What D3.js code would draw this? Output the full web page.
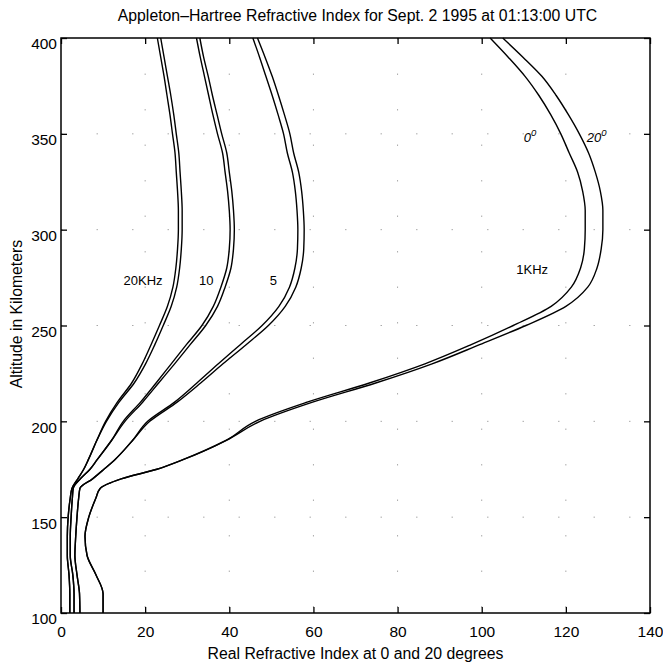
<!DOCTYPE html>
<html><head><meta charset="utf-8">
<script src="https://cdn.jsdelivr.net/npm/d3@7"></script>
<style>
body{margin:0;background:#fff;}
svg{display:block;font-family:"Liberation Sans",Arial,sans-serif;}
</style></head>
<body><svg id="c" width="663" height="664"></svg>
<script>
// ---- data ----
const altitudes = [100,110,120,130,140,150,160,165,170,175,180,190,200,210,220,230,240,250,260,270,280,290,300,310,320,330,340,350,360,370,380,390,400];
const f20k_0  = [2.1,2.1,1.9,1.5,1.5,1.7,2.2,2.6,4.0,5.4,6.5,8.5,10.6,13.4,16.8,19.3,21.4,23.4,25.3,26.6,27.3,27.7,27.9,27.9,27.7,27.4,27.1,26.5,25.9,25.2,24.5,23.7,22.9];
const f20k_20 = [2.1,2.1,1.9,1.5,1.5,1.7,2.2,2.6,4.0,5.4,6.5,8.5,10.8,13.8,17.4,20.1,22.3,24.3,26.2,27.5,28.2,28.6,28.8,28.8,28.6,28.3,28.0,27.4,26.8,26.1,25.3,24.5,23.7];
const f10k_0  = [3.1,3.1,2.8,2.2,2.2,2.4,2.7,2.9,4.6,6.9,8.6,12.0,14.8,18.9,22.6,26.2,29.8,33.5,36.2,38.0,39.4,40.0,40.2,40.0,39.6,39.0,38.4,37.2,36.1,35.1,34.1,33.1,32.2];
const f10k_20 = [3.1,3.1,2.8,2.2,2.2,2.4,2.7,2.9,4.6,6.9,8.6,12.0,15.2,19.4,23.2,27.0,30.7,34.4,37.2,39.0,40.4,41.0,41.2,41.0,40.6,40.0,39.4,38.2,37.1,36.0,35.0,33.9,33.0];
const f5k_0   = [4.5,4.4,3.8,3.3,3.5,3.8,4.2,4.5,7.5,10.2,12.8,17.0,20.6,27.0,32.3,37.4,42.6,47.8,51.8,54.3,55.6,56.2,56.3,56.1,55.7,55.0,53.8,52.9,51.6,50.2,48.7,47.2,45.6];
const f5k_20  = [4.5,4.4,3.8,3.3,3.5,3.8,4.2,4.5,7.5,10.2,12.8,17.0,21.1,27.6,33.2,38.5,44.0,49.3,53.3,55.8,57.1,57.7,57.8,57.6,57.2,56.5,55.3,54.4,53.1,51.7,50.2,48.5,46.7];
const f1k_0   = [10.0,10.0,8.3,6.2,5.7,6.6,8.3,9.3,14.3,22.8,29.0,39.2,46.2,58.5,73.3,86.5,97.5,107.5,116.5,121.3,123.5,124.4,124.6,124.6,124.0,122.8,120.8,118.8,116.4,113.6,110.3,106.3,102.0];
const f1k_20  = [10.0,10.0,8.3,6.2,5.7,6.6,8.3,9.3,14.3,22.8,29.0,39.2,47.3,59.8,74.8,88.2,99.5,110.5,120.0,125.2,127.4,128.4,128.8,128.8,128.2,127.0,125.4,123.2,120.6,117.7,114.3,109.8,105.0];
const seriesList = [f20k_0,f20k_20,f10k_0,f10k_20,f5k_0,f5k_20,f1k_0,f1k_20];
const xTicks = [0,20,40,60,80,100,120,140];
const yTicks = [100,150,200,250,300,350,400];
const freqLabels = [{t:"20KHz",v:19.5,a:271},{t:"10",v:34.5,a:271},{t:"5",v:50.5,a:271},{t:"1KHz",v:112,a:277}];
const angleLabels = [{t:"0",v:111.5,a:346},{t:"20",v:127.3,a:346}];

// ---- drawing ----
const svg = d3.select("#c");
const L=61,R=650,T=38,B=613;
const x = d3.scaleLinear().domain([0,140]).range([L,R]);
const y = d3.scaleLinear().domain([100,400]).range([B,T]);

// grid
const g = svg.append("g");
g.selectAll("line.gx").data(xTicks.slice(1,-1)).join("line")
  .attr("x1",d=>x(d)).attr("x2",d=>x(d)).attr("y1",T).attr("y2",B)
  .attr("stroke","#aaa").attr("stroke-width",1).attr("stroke-dasharray","1.5,34");
g.selectAll("line.gy").data(yTicks.slice(1,-1)).join("line")
  .attr("y1",d=>y(d)).attr("y2",d=>y(d)).attr("x1",L).attr("x2",R)
  .attr("stroke","#aaa").attr("stroke-width",1).attr("stroke-dasharray","1.5,34");

// curves
const line = d3.line().x(d=>x(d[0])).y(d=>y(d[1])).curve(d3.curveMonotoneY);
svg.append("g").selectAll("path").data(seriesList).join("path")
  .attr("d",s=>line(s.map((v,i)=>[v,altitudes[i]])))
  .attr("fill","none").attr("stroke","#000").attr("stroke-width",1.4);

// axes
const fs = "15.5px";
const ax = svg.append("g").attr("transform",`translate(0,${B})`)
  .call(d3.axisBottom(x).tickValues(xTicks).tickSizeInner(-6).tickSizeOuter(0).tickPadding(13));
const axT = svg.append("g").attr("transform",`translate(0,${T})`)
  .call(d3.axisTop(x).tickValues(xTicks).tickSizeInner(-6).tickSizeOuter(0).tickFormat(""));
const ay = svg.append("g").attr("transform",`translate(${L},0)`)
  .call(d3.axisLeft(y).tickValues(yTicks).tickSizeInner(-6).tickSizeOuter(0).tickPadding(4));
const ayR = svg.append("g").attr("transform",`translate(${R},0)`)
  .call(d3.axisRight(y).tickValues(yTicks).tickSizeInner(-6).tickSizeOuter(0).tickFormat(""));
[ax,axT,ay,ayR].forEach(a=>{
  a.select(".domain").remove();
  a.selectAll("line").attr("stroke","#000").attr("stroke-width",1.3);
  a.selectAll("text").attr("font-size",fs).attr("font-family","Liberation Sans, Arial, sans-serif").attr("fill","#000");
});
ay.selectAll("text").attr("dy","0.7em");
svg.append("rect").attr("x",L).attr("y",T).attr("width",R-L).attr("height",B-T)
  .attr("fill","none").attr("stroke","#000").attr("stroke-width",1.5);

// titles
svg.append("text").attr("x",(L+R)/2+2).attr("y",21).attr("text-anchor","middle")
  .attr("font-size","15.8px").text("Appleton\u2013Hartree Refractive Index for Sept. 2 1995 at 01:13:00 UTC");
svg.append("text").attr("x",(L+R)/2).attr("y",659).attr("text-anchor","middle")
  .attr("font-size","15.8px").text("Real Refractive Index at 0 and 20 degrees");
svg.append("text").attr("transform",`translate(22,314) rotate(-90)`).attr("text-anchor","middle")
  .attr("font-size","15.8px").text("Altitude in Kilometers");

// annotations
svg.append("g").selectAll("text").data(freqLabels).join("text")
  .attr("x",d=>x(d.v)).attr("y",d=>y(d.a)).attr("text-anchor","middle")
  .attr("font-size","13px").text(d=>d.t);
const al = svg.append("g").selectAll("text").data(angleLabels).join("text")
  .attr("x",d=>x(d.v)).attr("y",d=>y(d.a)).attr("text-anchor","middle")
  .attr("font-size","13px").attr("font-style","italic");
al.append("tspan").text(d=>d.t);
al.append("tspan").attr("dy","-6").attr("font-size","9.5px").text("0");
</script></body></html>
